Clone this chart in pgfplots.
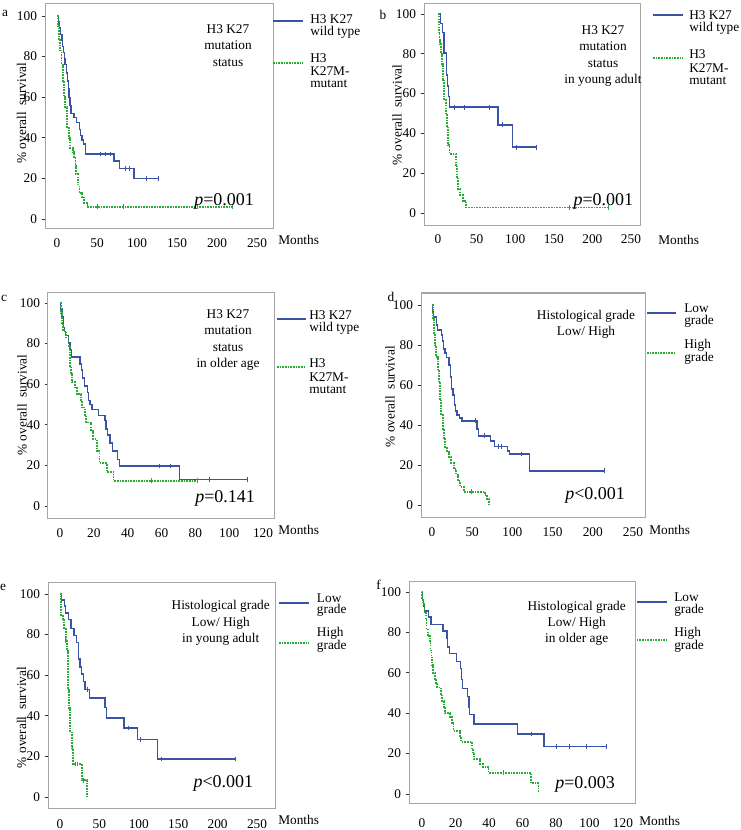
\documentclass[border=0pt]{standalone}
\usepackage{pgfplots}
\pgfplotsset{compat=1.18}
\usepackage{fontspec}
\setmainfont{Liberation Serif}
\definecolor{kmblue}{RGB}{58,83,164}
\definecolor{kmgreen}{RGB}{40,170,55}
\tikzset{
  bl/.style={kmblue, line width=1.05pt},
  gr/.style={kmgreen, line width=1.35pt, dash pattern=on 1.2pt off 0.8pt},
  blc/.style={kmblue, only marks, mark=|, mark size=1.8pt, mark options={line width=0.6pt}},
  grc/.style={kmgreen, only marks, mark=|, mark size=1.8pt, mark options={line width=0.6pt}},
}
\pgfplotsset{km/.style={
  scale only axis,
  axis line style={draw=black!35, line width=0.75pt},
  ytick={0,20,...,100},
  ytick pos=left,
  xtick style={draw=none},
  ytick style={black!80, line width=0.5pt},
  tick align=outside,
  major tick length=2.5pt,
  ticklabel style={font=\fontsize{10}{12}\selectfont},
  /pgf/number format/assume math mode=true,
  every axis plot/.append style={const plot},
}}
\begin{document}
\begin{tikzpicture}
\path[use as bounding box] (0,0) rectangle (555pt,-622.5pt);
% ---------------- a
\begin{axis}[km, at={(33.75pt,-3pt)}, anchor=north west, width=171pt, height=168.75pt,
  xmin=-15, xmax=270, ymin=-4.9, ymax=105.9, xtick={0,50,...,250},
  xticklabel style={yshift=-1.5pt}]
\addplot[bl] coordinates {(0,100)(1.5,97)(3,94)(4,91)(6,88)(7,85)(8,82)(9,79)(10,76)(12,72)(13,68)(14,64)(15,60)(16,56)(17.5,52)(21,50)(24,47.5)(28,44)(29,41)(31,39)(33,37)(35.5,32)(71,28.5)(78,25)(96,20)(127,20)};
\addplot[gr] coordinates {(0,100)(1,95)(2,88)(4,83)(5.5,76)(7,68)(8.3,60)(10.4,55)(12.5,45)(14.6,40)(16,35)(20,33)(21.7,30)(23,26)(24,22)(26,17)(28,13)(31,11)(34,8)(38,6)(219,6)};
\addplot[blc] coordinates {(54,32)(60,32)(67,32)(85,25)(90,25)(112,20)(127,20)};
\addplot[grc] coordinates {(50,6)(83,6)(175,6)(219,6)};
\end{axis}
% ---------------- b
\begin{axis}[km, at={(318pt,-3pt)}, anchor=north west, width=162pt, height=165.75pt,
  xmin=-18.1, xmax=261.7, ymin=-6, ymax=105, xtick={0,50,...,250},
  xticklabel style={yshift=-1.5pt}]
\addplot[bl] coordinates {(0,100)(3,95.3)(5.6,90.8)(7.8,80.3)(10.8,69.4)(12,63.9)(13.4,58.5)(15,53.2)(78,44.3)(96.5,33.1)(127.6,33.1)};
\addplot[gr] coordinates {(0,100)(1,90)(2,87)(3,85)(3.5,80)(5,75)(6.5,67)(8,57)(10,50)(11.7,43)(13.4,34)(15,29.8)(23,24)(24.7,18)(26.4,12)(29,9)(32.4,6)(36.8,2.8)(220.6,2.8)};
\addplot[blc] coordinates {(21.6,53.2)(34.6,53.2)(67,53.2)(84,44.3)(101.6,33.1)(127.6,33.1)};
\addplot[grc] coordinates {(170,2.8)(220.6,2.8)};
\end{axis}
% ---------------- c
\begin{axis}[km, at={(36pt,-219pt)}, anchor=north west, width=169.5pt, height=169.5pt,
  xmin=-7.1, xmax=126.5, ymin=-5.9, ymax=105.4, xtick={0,20,...,120},
  xticklabel style={yshift=-2.25pt}]
\addplot[bl] coordinates {(0,100)(0.4,97)(1.2,93)(2,88)(2.6,86)(3.4,84)(5,80.3)(6,77)(6.9,73.4)(11.8,70)(12.8,67)(13.4,63)(14.4,59.2)(16.2,56)(17,52)(17.8,50)(18.8,47.5)(22.7,44.5)(26.6,42)(27.2,38)(28,35)(29.6,31)(31.2,27)(34,23)(35,19.7)(70.7,13.2)(110.5,13.2)};
\addplot[gr] coordinates {(0,100)(0.4,95)(1.2,90)(2,86)(3.6,83)(5,79)(5.9,69)(6.5,65)(6.9,60.9)(8.9,58)(9.9,55)(12.4,52)(12.8,48.5)(14.8,45)(15.4,41.1)(18.4,37)(19.7,33)(21.7,27)(23.3,21)(27.6,16.9)(31.6,12.5)(81.3,12.5)};
\addplot[blc] coordinates {(58.8,19.7)(65.5,19.7)(88.4,13.2)(110.5,13.2)};
\addplot[grc] coordinates {(54.3,12.5)(81.3,12.5)};
\end{axis}
% ---------------- d
\begin{axis}[km, at={(315.75pt,-219.75pt)}, anchor=north west, width=168pt, height=168pt,
  xmin=-13.7, xmax=265, ymin=-6, ymax=106, xtick={0,50,...,250},
  xticklabel style={yshift=-2.25pt}]
\addplot[bl] coordinates {(0,100)(0.8,97)(1.7,94)(5.4,90)(6.6,87.5)(11.6,85)(12.9,82)(14.5,78)(16.2,76)(17.8,73.9)(21,70)(22.8,64)(24,58)(26,55)(27.8,50)(29.4,47)(31,45)(34.4,43.5)(37.3,42.1)(56,38)(57.6,34.6)(72.5,32)(78,29.3)(93.7,27)(96.6,25.5)(121.5,17.1)(214.8,17.1)};
\addplot[gr] coordinates {(0,100)(1.2,93)(2.5,86)(3.7,80)(5.4,74.2)(7,67.2)(8.7,61)(10,53.1)(11.6,45)(13.3,38)(14.5,33)(16.6,29)(18.7,26.5)(21,24)(24,21)(27,18)(30.3,15)(32.3,12)(35.2,9)(39.4,6.7)(65.5,5)(68.4,3)(71,0.5)};
\addplot[blc] coordinates {(53.5,42.1)(65.5,34.6)(82,29.3)(86,29.3)(111,25.5)(214.8,17.1)};
\addplot[grc] coordinates {(49,6.7)};
\end{axis}
% ---------------- e
\begin{axis}[km, at={(36pt,-436.5pt)}, anchor=north west, width=170.25pt, height=169.5pt,
  xmin=-15.2, xmax=272.8, ymin=-5.4, ymax=105.9, xtick={0,50,...,250},
  xticklabel style={yshift=-2.5pt}]
\addplot[bl] coordinates {(0,100)(2,97)(5.5,94)(7.2,90.6)(10.6,87.4)(14,83)(17.8,79.5)(21.2,76)(23.7,68)(25.4,64)(27,60.5)(29.7,57)(31.8,53)(37.3,48.8)(57.2,44)(59.3,38.9)(81.4,34)(98.3,28.2)(123.7,18.7)(222.5,18.7)};
\addplot[gr] coordinates {(0,100)(1.3,89.8)(3.4,87)(5.5,83)(7.2,77.2)(8.9,72)(10.6,52.9)(11.9,44)(13.1,32.3)(14.8,24)(16.1,16.3)(27.5,8.2)(34.7,0.3)};
\addplot[blc] coordinates {(35,53)(87,34)(101.7,28.2)(129,18.7)(222.5,18.7)};
\addplot[grc] coordinates {(7.5,77.2)(11,52.9)(20,16.3)(22,16.3)(30,8.2)};
\end{axis}
% ---------------- f
\begin{axis}[km, at={(306.75pt,-435.75pt)}, anchor=north west, width=169.5pt, height=166.5pt,
  xmin=-7.8, xmax=127.2, ymin=-4.5, ymax=105.4, xtick={0,20,...,120},
  xticklabel style={yshift=-5.5pt}]
\addplot[bl] coordinates {(0,100)(0.4,96)(1,93)(1.6,90.6)(4,87.5)(5.4,84)(12.5,80.6)(14.9,77)(15.3,72.8)(16.5,69.5)(20.4,65.7)(22.8,62)(23.4,56.7)(24,52.2)(27,48.1)(28,43)(28.4,39.4)(31.1,34.6)(56.9,29.7)(72.8,23.4)(110,23.4)};
\addplot[gr] coordinates {(0,100)(0.2,97)(0.6,94)(1.4,90.1)(2.2,86)(2.6,81.9)(3.4,78)(4.6,75)(5,71)(5.6,68.2)(6,64)(6.5,60)(7.5,57)(8.3,54.4)(8.9,52.7)(11.3,49.4)(11.9,46)(12.9,43.2)(13.9,39.9)(16.9,38)(17.8,35)(18.8,31.1)(22.8,28.5)(23.2,25.9)(29.7,22)(30.3,19.6)(31.1,17.3)(34.7,15)(36.3,13.5)(39.7,10.5)(65.1,5.3)(69.5,0.5)};
\addplot[blc] coordinates {(65.5,29.7)(80.3,23.4)(87.9,23.4)(98.2,23.4)(110,23.4)};
\addplot[grc] coordinates {(48.6,10.5)};
\end{axis}
% ---------------- texts (px units, origin top left)
\begin{scope}[x=0.75pt, y=-0.75pt, every node/.style={inner sep=0pt, font=\fontsize{10}{12.25}\selectfont}]
\tikzset{lb/.style={kmblue, line width=1.3pt}, lg/.style={kmgreen, line width=1.5pt, dash pattern=on 1.2pt off 0.8pt}}
% a
\node at (5,13) {a};
\node[align=center] at (228,45.5) {H3 K27\\mutation\\status};
\node[anchor=base west, font=\fontsize{13.5}{15}\selectfont] at (194,205.7) {\textit{p}=0.001};
\draw[lb] (273,21) -- (303,21);
\node[anchor=west] at (310,19.3) {H3 K27};
\node[anchor=west] at (310,32.3) {wild type};
\draw[lg] (273,62.7) -- (303,62.7);
\node[anchor=west] at (310,58.3) {H3};
\node[anchor=west] at (310,71) {K27M-};
\node[anchor=west] at (310,84.3) {mutant};
\node[anchor=west] at (278,240) {Months};
\node[rotate=90] at (21.7,113) {\% overall\ \ survival};
% b
\node at (383,15) {b};
\node[align=center] at (603,56) {H3 K27\\mutation\\status\\in young adult};
\node[anchor=base west, font=\fontsize{13.5}{15}\selectfont] at (573.3,205.7) {\textit{p}=0.001};
\draw[lb] (653,15) -- (683,15);
\node[anchor=west] at (689,15) {H3 K27};
\node[anchor=west] at (689,28.3) {wild type};
\draw[lg] (653,58.3) -- (683,58.3);
\node[anchor=west] at (689,54) {H3};
\node[anchor=west] at (689,67.7) {K27M-};
\node[anchor=west] at (689,80.7) {mutant};
\node[anchor=west] at (658,240) {Months};
\node[rotate=90] at (397,115) {\% overall\ \ survival};
% c
\node at (4,298) {c};
\node[align=center] at (228,340) {H3 K27\\mutation\\status\\in older age};
\node[anchor=base west, font=\fontsize{13.5}{15}\selectfont] at (195,502.3) {\textit{p}=0.141};
\draw[lb] (277,319.3) -- (306,319.3);
\node[anchor=west] at (309,315) {H3 K27};
\node[anchor=west] at (309,328.3) {wild type};
\draw[lg] (277,367.3) -- (306,367.3);
\node[anchor=west] at (309,363.3) {H3};
\node[anchor=west] at (309,376.7) {K27M-};
\node[anchor=west] at (309,390) {mutant};
\node[anchor=west] at (278,530) {Months};
\node[rotate=90] at (22,405) {\% overall\ \ survival};
% d
\node at (391,297) {d};
\node[align=center] at (586,324) {Histological grade\\Low/ High};
\node[anchor=base west, font=\fontsize{13.5}{15}\selectfont] at (565,499) {\textit{p}<0.001};
\draw[lb] (647,313.3) -- (676,313.3);
\node[anchor=west] at (684,308.3) {Low};
\node[anchor=west] at (684,321.7) {grade};
\draw[lg] (647,353.3) -- (676,353.3);
\node[anchor=west] at (684,345) {High};
\node[anchor=west] at (684,358.3) {grade};
\node[anchor=west] at (649,530) {Months};
\node[rotate=90] at (390,396.7) {\% overall\ \ survival};
% e
\node at (3,587) {e};
\node[align=center] at (220.7,623) {Histological grade\\Low/ High\\in young adult};
\node[anchor=base west, font=\fontsize{13.5}{15}\selectfont] at (193.3,787.7) {\textit{p}<0.001};
\draw[lb] (279,602.7) -- (309,602.7);
\node[anchor=west] at (316.7,597.7) {Low};
\node[anchor=west] at (316.7,610.7) {grade};
\draw[lg] (279,643.3) -- (309,643.3);
\node[anchor=west] at (316.7,633.3) {High};
\node[anchor=west] at (316.7,646.7) {grade};
\node[anchor=west] at (278,820) {Months};
\node[rotate=90] at (21.7,717.5) {\% overall\ \ survival};
% f
\node at (378.5,585) {f};
\node[align=center] at (576.7,623.3) {Histological grade\\Low/ High\\in older age};
\node[anchor=base west, font=\fontsize{13.5}{15}\selectfont] at (555,788.3) {\textit{p}=0.003};
\draw[lb] (636.7,602.3) -- (666.7,602.3);
\node[anchor=west] at (674,596.7) {Low};
\node[anchor=west] at (674,610) {grade};
\draw[lg] (636.7,640) -- (666.7,640);
\node[anchor=west] at (674,633.3) {High};
\node[anchor=west] at (674,646.7) {grade};
\node[anchor=west] at (639,820.5) {Months};
\end{scope}
\end{tikzpicture}
\end{document}
